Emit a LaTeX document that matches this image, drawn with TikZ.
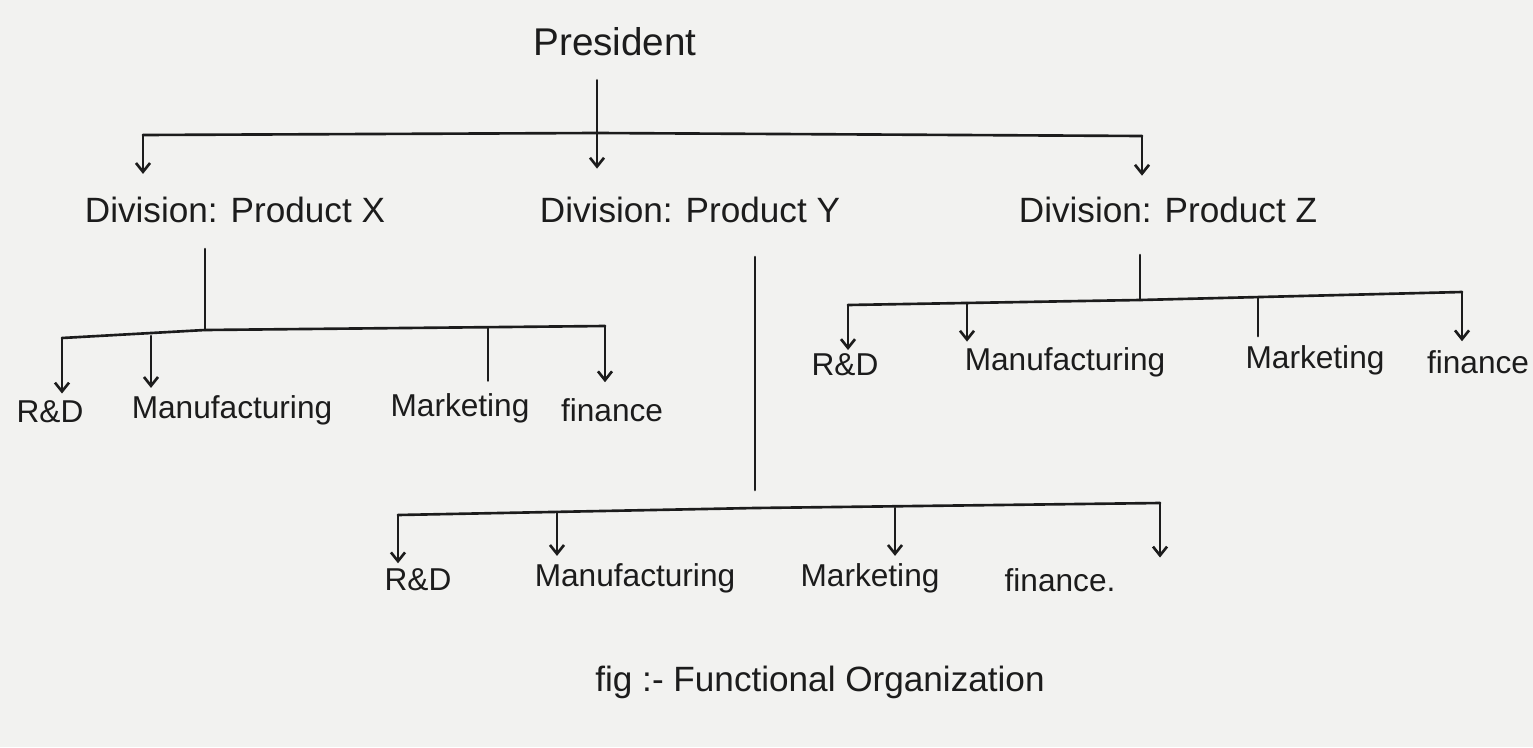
\documentclass[tikz,border=0pt]{standalone}
\usepackage{fontspec}
\setmainfont{Liberation Sans}
\usetikzlibrary{arrows.meta}
\definecolor{ink}{HTML}{1C1C1C}
\definecolor{paper}{HTML}{F2F2F0}
\begin{document}
\begin{tikzpicture}[x=0.02cm,y=-0.02cm,
  conn/.style={line width=1.5pt, draw=ink, line cap=round},
  arr/.style={conn,-{Straight Barb[length=5pt,width=8pt]}},
  lbl/.style={text=ink, inner sep=1pt, font=\fontsize{18}{21}\selectfont},
  divlbl/.style={lbl, font=\fontsize{20}{24}\selectfont},
  toplbl/.style={lbl, font=\fontsize{22}{26}\selectfont},
  caplbl/.style={lbl, font=\fontsize{20}{24}\selectfont}]
\fill[paper] (0,0) rectangle (1533,747);
\useasboundingbox (0,0) rectangle (1533,747);

% nodes
\node[toplbl] (pres) at (615,42) {President};
\node[divlbl] (divX) at (235,210) {Division: Product X};
\node[divlbl] (divY) at (690,210) {Division: Product Y};
\node[divlbl] (divZ) at (1168,210) {Division: Product Z};

\node[lbl] (xrd)  at (50,412)  {R\&D};
\node[lbl] (xman) at (232,410) {Manufacturing};
\node[lbl] (xmar) at (460,408) {Marketing};
\node[lbl] (xfin) at (612,410) {finance};

\node[lbl] (zrd)  at (845,365)  {R\&D};
\node[lbl] (zman) at (1065,362) {Manufacturing};
\node[lbl] (zmar) at (1315,360) {Marketing};
\node[lbl] (zfin) at (1478,362) {finance};

\node[lbl] (yrd)  at (418,580)  {R\&D};
\node[lbl] (yman) at (635,578)  {Manufacturing};
\node[lbl] (ymar) at (870,578)  {Marketing};
\node[lbl] (yfin) at (1060,580) {finance.};

\node[caplbl] (cap) at (820,682) {fig :- Functional Organization};

% President level
\coordinate (pj) at (597,133);
\coordinate (pL) at (143,135);
\coordinate (pR) at (1142,136);
\draw[conn] (pres.south -| pj) ++(0,22) -- (pj);
\draw[conn] (pL) -- (pj) -- (pR);
\draw[arr, shorten >=12pt] (pL) -- (pL |- divX.north);
\draw[arr, shorten >=15pt] (pj) -- (pj |- divY.north);
\draw[arr, shorten >=11pt] (pR) -- (pR |- divZ.north);

% Division X
\coordinate (xj) at (205,330);
\coordinate (xL) at (62,338);
\coordinate (xR) at (605,326);
\draw[conn] (divX.south -| xj) ++(0,24) -- (xj);
\draw[conn] (xL) -- (xj) -- (xR);
\draw[arr, shorten >=3pt] (xL) -- (xL |- xrd.north);
\draw[arr, shorten >=3pt] (151,336) -- (151,0 |- xman.north);
\draw[conn, shorten >=6pt] (488,328) -- (488,0 |- xmar.north);
\draw[arr, shorten >=8pt] (xR) -- (xR |- xfin.north);

% Division Z
\coordinate (zj) at (1140,300);
\coordinate (zL) at (848,305);
\coordinate (zR) at (1462,292);
\draw[conn] (divZ.south -| zj) ++(0,30) -- (zj);
\draw[conn] (zL) -- (zj) -- (zR);
\draw[arr, shorten >=1pt] (zL) -- (zL |- zrd.north);
\draw[arr, shorten >=2pt] (967,303) -- (967,0 |- zman.north);
\draw[conn, shorten >=4pt] (1258,297) -- (1258,0 |- zmar.north);
\draw[arr, shorten >=4pt] (zR) -- (zR |- zfin.north);

% Division Y
\coordinate (yj) at (755,508);
\coordinate (yL) at (398,515);
\coordinate (yR) at (1160,503);
\draw[conn] (divY.south -| yj) ++(0,32) -- (755,490);
\draw[conn] (yL) -- (yj) -- (yR);
\draw[arr, shorten >=2pt] (yL) -- (yL |- yrd.north);
\draw[arr, shorten >=3pt] (557,512) -- (557,0 |- yman.north);
\draw[arr, shorten >=3pt] (895,508) -- (895,0 |- ymar.north);
\draw[arr, shorten >=5pt] (yR) -- (yR |- yfin.north);
\end{tikzpicture}
\end{document}
